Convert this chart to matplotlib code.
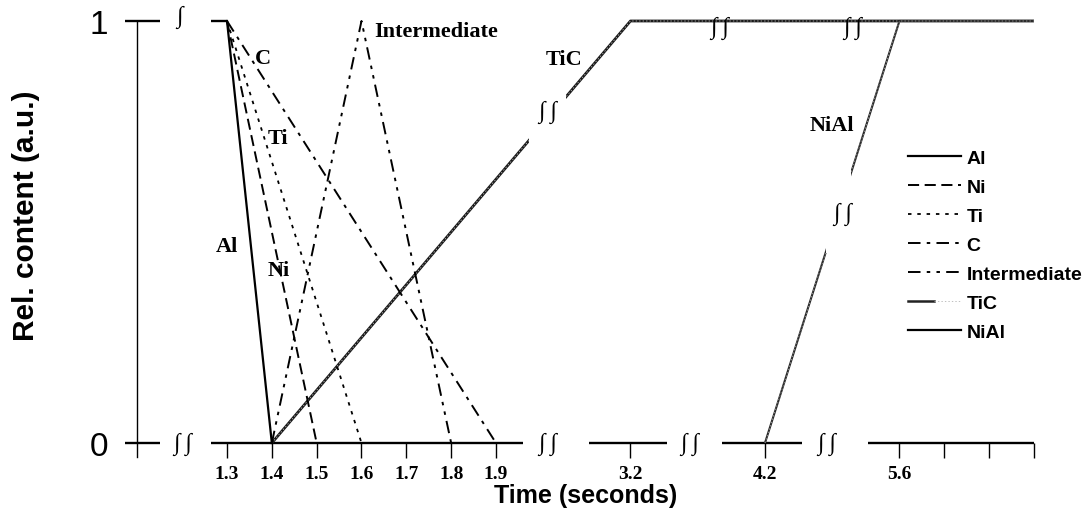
import numpy as np
import matplotlib
matplotlib.use("Agg")
import matplotlib.pyplot as plt
from matplotlib.lines import Line2D
from matplotlib.patches import Rectangle
from matplotlib.legend_handler import HandlerTuple

plt.rcParams['lines.scale_dashes'] = False

# ---------------- data ----------------
tick_times = [1.3, 1.4, 1.5, 1.6, 1.7, 1.8, 1.9, 3.2, 4.2, 5.6, 5.8, 6.0, 6.2]
tick_labels = ['1.3', '1.4', '1.5', '1.6', '1.7', '1.8', '1.9', '3.2', '4.2', '5.6', '', '', '']

# broken time axis: time -> axis position
axis_times = [1.3, 1.9, 3.2, 4.2, 5.6, 6.2]
axis_pos = [0, 6, 9, 12, 15, 18]

al_t, al_v = [1.3, 1.4], [1, 0]
ni_t, ni_v = [1.3, 1.5], [1, 0]
ti_t, ti_v = [1.3, 1.6], [1, 0]
c_t, c_v = [1.3, 1.9], [1, 0]
inter_t, inter_v = [1.4, 1.6, 1.8], [0, 1, 0]
tic_t, tic_v = [1.4, 3.2, 6.2], [0, 1, 1]
nial_t, nial_v = [4.2, 5.6, 6.2], [0, 1, 1]

series_labels = ['Al', 'Ni', 'Ti', 'C', 'Intermediate', 'TiC', 'NiAl']


def P(t):
    return np.interp(t, axis_times, axis_pos)


SERIF = ['Liberation Serif', 'DejaVu Serif']
SANS = ['Liberation Sans', 'DejaVu Sans']

fig = plt.figure(figsize=(10.92, 5.10), dpi=100)
ax = fig.add_axes([0, 0, 1, 1])
ax.set_xlim(-5.0636, 19.295)
ax.set_ylim(-0.1564, 1.0521)

# ---------------- styles ----------------
st = {
    'Al': dict(color='black', lw=1.6, ls='-'),
    'Ni': dict(color='black', lw=1.4, ls=(0, (8, 4))),
    'Ti': dict(color='black', lw=1.3, ls=(0, (2.5, 4.2))),
    'C': dict(color='black', lw=1.4, ls=(0, (9, 4.5, 2.5, 4.5))),
    'Intermediate': dict(color='black', lw=1.4, ls=(0, (9, 4.5, 2.5, 4.5, 2.5, 4.5))),
}
tic_base = dict(color='#1a1a1a', lw=2.0, ls='-', solid_capstyle='butt')
tic_top = dict(color='#b5b5b5', lw=0.6, ls=(0, (1, 1.5)))
nial_base = dict(color='#2a2a2a', lw=1.5, ls='-', solid_capstyle='butt')
nial_top = dict(color='#c0c0c0', lw=0.45, ls=(0, (1, 1.5)))

# ---------------- axis decorations (broken axis) ----------------
bottom_segments = [(-2.27, -1.5), (-0.36, 6.6), (8.07, 9.81), (11.04, 12.83), (14.3, 18.0)]
top_segments = [(-2.27, -1.5), (-0.36, 0.0)]
for a, b in bottom_segments:
    ax.plot([a, b], [0, 0], color='black', lw=1.7, solid_capstyle='butt', zorder=2)
for a, b in top_segments:
    ax.plot([a, b], [1, 1], color='black', lw=1.7, solid_capstyle='butt', zorder=2)

for s in ['top', 'right']:
    ax.spines[s].set_visible(False)
ax.spines['left'].set_position(('data', -2.0))
ax.spines['left'].set_bounds(-0.033, 1.0)
ax.spines['left'].set_linewidth(1.0)
ax.spines['bottom'].set_position(('data', 0))
ax.spines['bottom'].set_visible(False)

ax.set_xticks(P(tick_times))
ax.set_xticklabels(tick_labels, fontfamily=SERIF, fontweight='bold', fontsize=14)
ax.tick_params(axis='x', direction='out', length=10.5, width=1.0, pad=5.5)
ax.set_yticks([0, 1])
ax.set_yticklabels(['0', '1'], fontfamily=SANS, fontsize=24)
ax.tick_params(axis='y', length=0, pad=21)

ax.set_xlabel('Time (seconds)', fontfamily=SANS, fontweight='bold', fontsize=18)
ax.xaxis.set_label_coords(586 / 1092, 1 - 496 / 510)
ax.xaxis.label.set_va('center')
ax.set_ylabel('Rel. content (a.u.)', fontfamily=SANS, fontweight='bold', fontsize=21.5)
ax.yaxis.set_label_coords(26 / 1092, 1 - 216 / 510)
ax.yaxis.label.set_va('center')

# ---------------- curves ----------------
ax.plot(P(al_t), al_v, zorder=4, **st['Al'])
ax.plot(P(ni_t), ni_v, zorder=4, **st['Ni'])
ax.plot(P(ti_t), ti_v, zorder=4, **st['Ti'])
ax.plot(P(c_t), c_v, zorder=4, **st['C'])
ax.plot(P(inter_t), inter_v, zorder=4, **st['Intermediate'])
ax.plot(P(tic_t), tic_v, zorder=3, **tic_base)
ax.plot(P(tic_t), tic_v, zorder=3.1, **tic_top)
ax.plot(P(nial_t), nial_v, zorder=3.2, **nial_base)
ax.plot(P(nial_t), nial_v, zorder=3.3, **nial_top)

# gaps in the long rising lines
ax.add_patch(Rectangle((6.74, 0.69), 0.83, 0.15, fc='white', ec='none', zorder=5))
ax.add_patch(Rectangle((13.37, 0.45), 0.56, 0.20, fc='white', ec='none', zorder=5))

# break symbols
brk = dict(fontfamily=SERIF, fontsize=17, ha='center', va='center', zorder=6)
BR2 = '∫ ∫'
for xb in [-0.98, 7.16, 10.33, 13.38]:
    ax.text(xb, 0.0, BR2, **brk)
ax.text(-1.05, 1.01, '∫', **brk)
ax.text(11.0, 0.985, BR2, **brk)
ax.text(13.96, 0.985, BR2, **brk)
ax.text(7.16, 0.787, BR2, **brk)
ax.text(13.74, 0.543, BR2, **brk)

# curve annotations
ann = dict(fontfamily=SERIF, fontweight='bold', fontsize=16, va='center', zorder=7)
ax.text(P(1.380), 0.912, 'C', ha='center', **ann)
ax.text(P(1.414), 0.723, 'Ti', ha='center', **ann)
ax.text(P(1.300), 0.467, 'Al', ha='center', **ann)
ax.text(P(1.416), 0.410, 'Ni', ha='center', **ann)
ax.text(P(1.628), 0.976, 'Intermediate', ha='left', **ann)
ax.text(P(2.56), 0.910, 'TiC', ha='center', **ann)
ax.text(P(4.90), 0.754, 'NiAl', ha='center', **ann)

# ---------------- legend ----------------
handles = [
    Line2D([], [], **st['Al']),
    Line2D([], [], **st['Ni']),
    Line2D([], [], **st['Ti']),
    Line2D([], [], **st['C']),
    Line2D([], [], **st['Intermediate']),
    (Line2D([], [], color='#222222', lw=1.8), Line2D([], [], **tic_top)),
    Line2D([], [], color='black', lw=1.6),
]
ax.legend(handles, series_labels, loc='upper left',
          bbox_to_anchor=(908 / 1092, 1 - 150 / 510), bbox_transform=fig.transFigure,
          frameon=False, handlelength=2.7, handletextpad=0.3, labelspacing=0.59,
          borderpad=0, borderaxespad=0,
          handler_map={tuple: HandlerTuple(ndivide=None, pad=0)},
          prop=dict(family=SANS, weight='bold', size=14))

fig.savefig('out.png', dpi=100)
